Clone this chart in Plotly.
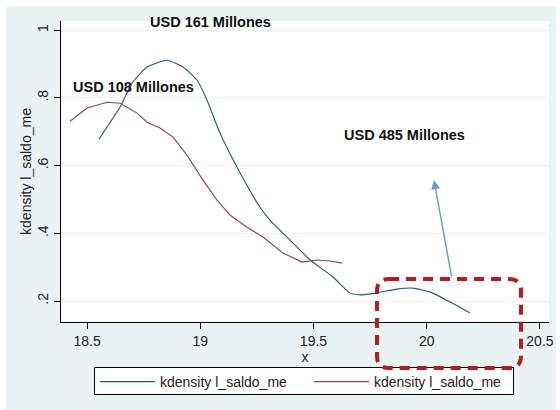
import plotly.graph_objects as go

# ---- data ----
blue_x = [18.553, 18.602, 18.646, 18.699, 18.765, 18.853, 18.924, 18.986, 19.030, 19.087,
          19.176, 19.264, 19.308, 19.396, 19.485, 19.586, 19.661, 19.705, 19.780, 19.869,
          19.939, 20.014, 20.103, 20.191]
blue_y = [0.678, 0.728, 0.773, 0.844, 0.891, 0.911, 0.891, 0.852, 0.793, 0.696,
          0.578, 0.477, 0.439, 0.380, 0.321, 0.271, 0.224, 0.218, 0.224, 0.235,
          0.238, 0.227, 0.197, 0.165]

red_x = [18.425, 18.500, 18.588, 18.646, 18.721, 18.765, 18.822, 18.880, 18.942, 19.012,
         19.074, 19.131, 19.206, 19.277, 19.365, 19.449, 19.515, 19.573, 19.626]
red_y = [0.731, 0.770, 0.787, 0.784, 0.755, 0.728, 0.711, 0.684, 0.630, 0.557,
         0.498, 0.454, 0.418, 0.389, 0.342, 0.315, 0.321, 0.318, 0.312]

series_names = ["kdensity l_saldo_me", "kdensity l_saldo_me"]

x_ticks = [18.5, 19, 19.5, 20, 20.5]
x_tick_labels = ["18.5", "19", "19.5", "20", "20.5"]
y_ticks = [0.2, 0.4, 0.6, 0.8, 1.0]
y_tick_labels = [".2", ".4", ".6", ".8", "1"]

labels_text = ["USD 161 Millones", "USD 108 Millones", "USD 485 Millones"]
labels_x = [19.043, 18.703, 19.904]
labels_y = [1.024, 0.832, 0.690]

arrow_head = (20.032, 0.557)
arrow_tail = (20.111, 0.268)

BG = "#EAF2F3"
FONT = "Liberation Sans, Arial, sans-serif"
TXT = "#222222"

fig = go.Figure()
fig.add_trace(go.Scatter(x=blue_x, y=blue_y, mode="lines", name=series_names[0],
                         line=dict(color="#2b5675", width=1.1, shape="spline", smoothing=0.5)))
fig.add_trace(go.Scatter(x=red_x, y=red_y, mode="lines", name=series_names[1],
                         line=dict(color="#93424a", width=1.1)))

annotations = []
for t, ax_, ay_ in zip(labels_text, labels_x, labels_y):
    annotations.append(dict(x=ax_, y=ay_, xref="x", yref="y", text="<b>%s</b>" % t,
                            showarrow=False, font=dict(family=FONT, size=14.5, color="#111111")))
annotations.append(dict(x=arrow_head[0], y=arrow_head[1], xref="x", yref="y",
                        ax=arrow_tail[0], ay=arrow_tail[1], axref="x", ayref="y",
                        text="", showarrow=True, arrowhead=2, arrowsize=1.2, arrowwidth=1.5,
                        arrowcolor="#6a9fd4"))

# geometry (paper coords)
W, H = 560, 410
ml, mr, mt, mb = 61, 11, 21, 88
pw, ph = W - ml - mr, H - mt - mb


def px2paper(px, py):
    return (px - ml) / pw, (H - mb - py) / ph


bx0, by0 = px2paper(6, 410)
bx1, by1 = px2paper(556, 6)

rx0, ry0 = px2paper(377, 368)
rx1, ry1 = px2paper(521, 279)
rr_x = 12 / pw
rr_y = 12 / ph
path = (f"M{rx0+rr_x},{ry1} L{rx1-rr_x},{ry1} Q{rx1},{ry1} {rx1},{ry1-rr_y} "
        f"L{rx1},{ry0+rr_y} Q{rx1},{ry0} {rx1-rr_x},{ry0} L{rx0+rr_x},{ry0} "
        f"Q{rx0},{ry0} {rx0},{ry0+rr_y} L{rx0},{ry1-rr_y} Q{rx0},{ry1} {rx0+rr_x},{ry1} Z")

# legend frame
fx0, fy0 = px2paper(94.5, 394.5)
fx1, fy1 = px2paper(513.5, 367.5)

shapes = [
    dict(type="rect", xref="paper", yref="paper", x0=bx0, y0=by0, x1=bx1, y1=by1,
         fillcolor=BG, line=dict(width=0), layer="below"),
    dict(type="rect", xref="paper", yref="paper", x0=0, y0=0, x1=1, y1=1,
         fillcolor="white", line=dict(width=0), layer="below"),
    dict(type="rect", xref="paper", yref="paper", x0=fx0, y0=fy0, x1=fx1, y1=fy1,
         fillcolor="white", line=dict(color="black", width=1), layer="above"),
    dict(type="path", xref="paper", yref="paper", path=path,
         line=dict(color="#b41e1e", width=4, dash="10px,7px"), layer="above"),
]

lx, ly = px2paper(95, 366)

fig.update_layout(
    width=W, height=H,
    margin=dict(l=ml, r=mr, t=mt, b=mb, pad=0, autoexpand=False),
    paper_bgcolor="white",
    plot_bgcolor="white",
    font=dict(family=FONT, size=14, color=TXT),
    showlegend=True,
    legend=dict(orientation="h", x=lx, y=ly, xanchor="left", yanchor="top",
                bgcolor="rgba(0,0,0,0)", borderwidth=0,
                font=dict(family=FONT, size=14, color=TXT),
                itemwidth=55, entrywidth=144, entrywidthmode="pixels",
                tracegroupgap=0),
    annotations=annotations,
    shapes=shapes,
    xaxis=dict(range=[18.385, 20.54], tickvals=x_ticks, ticktext=x_tick_labels,
               showgrid=False, zeroline=False, showline=True, linecolor="black", linewidth=1,
               ticks="outside", ticklen=6, tickcolor="black",
               tickfont=dict(family=FONT, size=14, color=TXT),
               title=dict(text="x", standoff=0, font=dict(family=FONT, size=14, color=TXT))),
    yaxis=dict(range=[0.138, 1.027], tickvals=y_ticks, ticktext=y_tick_labels, tickangle=-90,
               showgrid=True, gridcolor=BG, gridwidth=1, zeroline=False,
               showline=True, linecolor="black", linewidth=1,
               ticks="outside", ticklen=6, tickcolor="black",
               tickfont=dict(family=FONT, size=14, color=TXT),
               title=dict(text="kdensity l_saldo_me", standoff=0,
                          font=dict(family=FONT, size=14, color=TXT))),
)

fig.write_html("out.html")
